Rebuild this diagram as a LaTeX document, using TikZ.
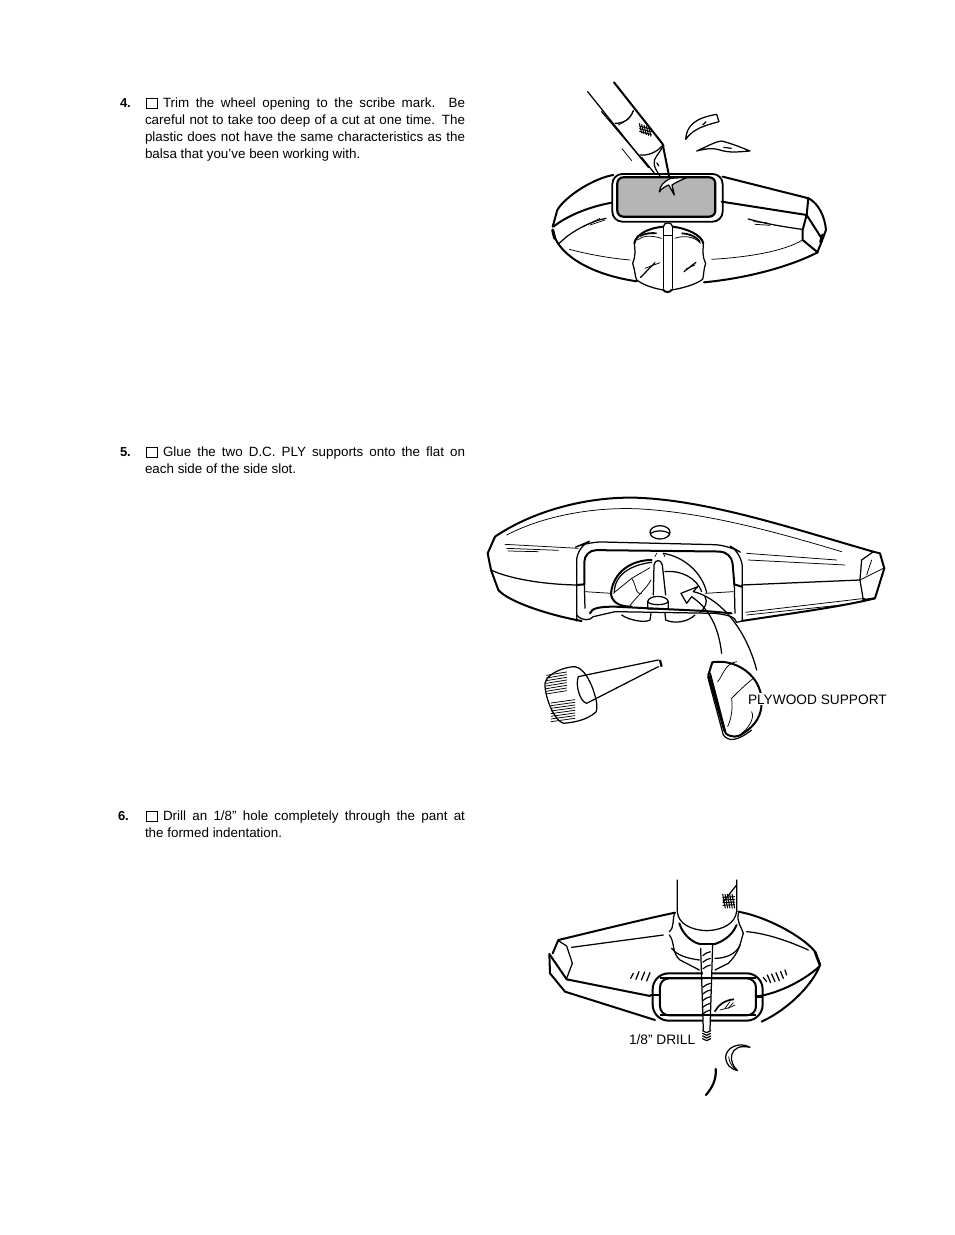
\documentclass[tikz,border=0pt]{standalone}
\usepackage{fontspec}
\setmainfont{Liberation Sans}
\tikzset{
  txt/.style={anchor=base west,inner sep=0pt,outer sep=0pt,font=\fontsize{13.4}{15}\selectfont},
  num/.style={txt,font=\fontsize{13}{15}\selectfont\bfseries},
  lab/.style={txt,font=\fontsize{13.7}{15}\selectfont},
  chk/.style={draw,line width=0.8pt},
  thk/.style={line width=2pt,line join=round,line cap=round},
  med/.style={line width=1.25pt,line join=round,line cap=round},
  thn/.style={line width=0.75pt,line join=round,line cap=round},
  fig/.style={x=0.3333pt,y=-0.3333pt}
}
\newcommand{\jl}[1]{\makebox[#1pt][s]}
\begin{document}
\begin{tikzpicture}[x=1pt,y=-1pt]
\useasboundingbox (0,0) rectangle (954,1235);
\fill[white] (0,0) rectangle (954,1235);
% ---------- text
\node[num] (n4) at (120,107) {4.};
\draw[chk] (146,98) rectangle (157,108.5);
\node[txt] (t41) at (163,107) {\jl{302}{Trim the wheel opening to the scribe mark. Be}};
\node[txt] (t42) at (145,124) {\jl{320}{careful not to take too deep of a cut at one time. The}};
\node[txt] (t43) at (145,141) {\jl{320}{plastic does not have the same characteristics as the}};
\node[txt] (t44) at (145,158) {balsa that you’ve been working with.};
\node[num] (n5) at (120,456) {5.};
\draw[chk] (146,447) rectangle (157,457.5);
\node[txt] (t51) at (163,456) {\jl{302}{Glue the two D.C. PLY supports onto the flat on}};
\node[txt] (t52) at (145,473) {each side of the side slot.};
\node[num] (n6) at (118,820) {6.};
\draw[chk] (146,811) rectangle (157,821.5);
\node[txt] (t61) at (163,820) {\jl{302}{Drill an 1/8” hole completely through the pant at}};
\node[txt] (t62) at (145,837) {the formed indentation.};
% ---------- figure 1
\begin{scope}[shift={(540,70)},fig]
 % tool
 \draw[thk] (222,37) -- (368,222);
 \draw[med] (143,65) -- (325,292);
 \draw[med] (185,125) -- (310,272);
 \draw[thn] (246,236) -- (275,272);
 \draw[med] (280,122) .. controls (270,150) and (250,160) .. (225,160);
 \draw[thn] (280,122) .. controls (272,145) and (255,155) .. (235,165);
 \foreach \a in {0,7,...,28} \draw[line width=1pt] (298+\a,160+\a/3) -- (305+\a,190+\a/3);
 \foreach \a in {0,8,16} \draw[line width=1pt] (298,168+\a) -- (335,178+\a);
 \draw[thk] (368,222) -- (388,322);
 \draw[med] (366,228) .. controls (352,245) and (325,258) .. (300,255);
 \draw[med] (372,226) -- (350,258) .. controls (340,272) and (335,285) .. (365,325);
 \draw[med] (305,262) -- (345,312);
 \draw[line width=1.2pt] (350,278) -- (357,288);
 % wheel opening
 \draw[line width=1.8pt,rounded corners=10pt] (217,312) rectangle (548,455);
 \draw[line width=2.2pt,rounded corners=6pt,fill=gray!58] (232,322) rectangle (526,440);
 \fill[white] (358,366) .. controls (360,345) and (372,335) .. (392,325) -- (442,322) .. controls (420,332) and (405,338) .. (396,345) -- (403,375) -- (386,345) .. controls (375,350) and (365,355) .. (358,366) -- cycle;
 \draw[med] (358,366) .. controls (360,345) and (372,335) .. (392,325) -- (442,322) .. controls (420,332) and (405,338) .. (396,345) -- (403,375) -- (386,345) .. controls (375,350) and (365,355) .. (358,366) -- cycle;
 % body
 \draw[thk] (220,315) .. controls (160,325) and (75,380) .. (52,420) -- (38,470);
 \draw[line width=3pt,line cap=round] (38,480) -- (44,505);
 \draw[thk] (40,490) .. controls (60,560) and (160,615) .. (290,634);
 \draw[thk] (215,398) .. controls (150,410) and (85,435) .. (40,470);
 \draw[thk] (548,320) -- (806,385) .. controls (835,400) and (855,440) .. (858,480) -- (845,515) -- (833,545);
 \draw[thk] (545,395) -- (800,435) -- (845,505);
 \draw[line width=3pt,line cap=round] (848,495) -- (842,516);
 \draw[thk] (805,385) -- (800,435);
 \draw[thk] (800,435) -- (788,480) -- (788,510) -- (833,547);
 \draw[thk] (492,637) .. controls (620,625) and (750,590) .. (833,547);
 \draw[thn] (515,568) .. controls (620,562) and (730,545) .. (788,510);
 \draw[thn] (88,538) .. controls (140,552) and (210,565) .. (270,570);
 \draw[med] (55,522) -- (80,500) .. controls (110,478) and (150,455) .. (198,445);
 \draw[thn] (130,470) -- (180,445);
 \draw[thn] (150,465) -- (195,450);
 \draw[med] (625,447) .. controls (680,462) and (730,470) .. (785,478);
 \draw[thn] (640,455) -- (680,458);
 \draw[thn] (645,463) -- (690,466);
 % wheel
 \draw[thk] (283,520) .. controls (288,495) and (320,475) .. (370,470);
 \draw[thk] (398,470) .. controls (440,475) and (485,495) .. (490,520);
 \draw[med] (283,520) .. controls (285,540) and (288,555) .. (278,580) .. controls (285,600) and (285,620) .. (290,630) .. controls (310,645) and (340,655) .. (370,660);
 \draw[med] (490,520) .. controls (490,540) and (485,555) .. (497,580) .. controls (490,600) and (492,615) .. (488,628) .. controls (465,645) and (425,655) .. (395,660);
 \draw[thk] (370,660) .. controls (375,668) and (390,668) .. (395,660);
 \draw[med] (370,470) -- (370,655);
 \draw[med] (398,470) -- (398,655);
 \draw[med] (370,470) .. controls (372,455) and (395,455) .. (398,470);
 \draw[med] (372,497) -- (396,497);
 \draw[line width=1.8pt] (300,498) .. controls (315,490) and (335,488) .. (350,490);
 \draw[thn] (292,510) .. controls (310,497) and (330,495) .. (365,505);
 \draw[line width=1.8pt] (425,490) .. controls (445,490) and (470,500) .. (480,515);
 \draw[thn] (405,505) .. controls (430,495) and (465,500) .. (482,520);
 \draw[med] (302,622) -- (345,578);
 \draw[thn] (315,595) -- (360,578);
 \draw[med] (432,605) -- (468,577);
 \draw[thn] (438,597) -- (465,585);
 % chips
 \draw[med] (437,208) .. controls (440,170) and (460,145) .. (530,133) -- (537,155) .. controls (500,165) and (460,175) .. (437,208) -- cycle;
 \draw[line width=1.2pt] (488,165) -- (498,155);
 \draw[med] (470,243) .. controls (500,230) and (525,215) .. (545,213) .. controls (580,222) and (610,235) .. (630,243) .. controls (600,245) and (570,250) .. (540,240) .. controls (515,232) and (490,238) .. (470,243) -- cycle;
 \draw[line width=1.2pt] (550,232) -- (575,235);
\end{scope}
% ---------- figure 2
\begin{scope}[shift={(475,485)},fig]
 % body
 \draw[thk] (60,155) .. controls (170,80) and (330,35) .. (480,38) .. controls (700,45) and (950,130) .. (1195,200);
 \draw[thn] (95,150) .. controls (220,85) and (380,65) .. (500,72) .. controls (700,85) and (900,140) .. (1100,200);
 \draw[thk] (60,155) -- (38,205) -- (48,255) -- (70,315) .. controls (100,350) and (220,390) .. (320,408);
 \draw[med] (48,255) .. controls (100,280) and (200,298) .. (305,300);
 \draw[thk] (1195,200) -- (1215,205) -- (1228,250) -- (1200,340) -- (1165,345);
 \draw[med] (1195,200) -- (1160,225) -- (1155,285) -- (1165,345);
 \draw[thn] (1155,285) -- (1225,250);
 \draw[thn] (1190,225) -- (1175,270);
 \draw[thk] (800,408) .. controls (950,385) and (1100,365) .. (1200,340);
 \draw[med] (800,300) -- (1155,285);
 \draw[thn] (812,382) -- (1170,340);
 \draw[thn] (815,390) -- (1100,360);
 \draw[thn] (90,178) -- (310,190);
 \draw[thn] (95,190) -- (250,196);
 \draw[thn] (100,198) -- (190,200);
 \draw[thn] (815,205) -- (1085,225);
 \draw[thn] (820,225) -- (1110,240);
 % hole
 \draw[med] (555,142) ellipse [x radius=30,y radius=20];
 \draw[med] (527,145) .. controls (540,135) and (570,135) .. (583,145);
 % recess
 \draw[med,rounded corners=14pt] (305,408) -- (305,185) -- (340,170) -- (760,180) -- (802,205) -- (802,408);
 \draw[thk,rounded corners=12pt] (328,298) -- (328,195) -- (770,200) -- (778,298);
 \draw[thk] (305,300) -- (328,298);
 \draw[thk] (778,298) -- (800,305);
 \draw[med] (328,298) -- (330,370);
 \draw[med] (778,298) -- (780,385);
 \draw[med] (305,390) .. controls (320,408) and (345,408) .. (355,395) -- (420,380) -- (720,385) .. controls (760,390) and (780,395) .. (785,412) -- (802,408);
 \draw[thk] (345,385) .. controls (350,370) and (370,365) .. (420,365) -- (690,378) -- (770,385);
 \draw[thn] (330,320) -- (408,325);
 \draw[thn] (690,325) -- (775,320);
 % supports and hub
 \draw[thk] (530,225) .. controls (470,225) and (415,260) .. (408,325) .. controls (410,350) and (430,365) .. (470,365);
 \draw[med] (418,320) .. controls (420,270) and (465,240) .. (530,232);
 \draw[thn] (415,325) -- (470,280) -- (525,248);
 \draw[thn] (470,280) .. controls (485,300) and (480,330) .. (500,325);
 \draw[thn] (528,285) .. controls (515,310) and (480,340) .. (465,362);
 \draw[med] (565,205) .. controls (625,215) and (680,260) .. (695,322);
 \draw[med] (570,260) .. controls (620,255) and (665,280) .. (680,320);
 \draw[med] (690,335) .. controls (700,350) and (690,370) .. (675,382);
 \draw[med] (535,330) -- (537,240) .. controls (540,222) and (558,222) .. (562,240) -- (572,330);
 \draw[med] (518,350) .. controls (520,330) and (575,328) .. (580,350) -- (580,372) -- (518,372) -- cycle;
 \draw[med] (518,350) .. controls (525,362) and (572,362) .. (580,350);
 \draw[med] (440,390) .. controls (460,405) and (510,415) .. (525,405) -- (528,385);
 \draw[med] (570,385) -- (572,405) .. controls (600,418) and (640,410) .. (660,390);
 \draw[thn] (545,205) -- (540,215);
 \draw[thn] (565,205) -- (570,215);
 % arrow
 \fill[white] (618,325) -- (668,305) -- (655,322) -- (650,337) -- (635,355) -- cycle;
 \draw[med] (618,325) -- (668,305) -- (655,320) .. controls (725,335) and (810,420) .. (845,555);
 \draw[med] (618,325) -- (635,355) -- (650,335) .. controls (700,370) and (730,420) .. (740,505);
 % bottle
 \draw[med] (300,545) .. controls (270,545) and (215,565) .. (210,595) .. controls (208,630) and (235,705) .. (265,715) .. controls (300,712) and (335,705) .. (362,682);
 \draw[med] (300,545) .. controls (335,550) and (360,620) .. (365,655) .. controls (366,670) and (365,680) .. (362,682);
 \foreach \y in {565,573,...,621} \draw[thn] (214,\y+6) -- (275,\y-4);
 \foreach \y in {652,660,...,708} \draw[thn] (228,\y+2) -- (300,\y-8);
 \draw[med] (310,575) .. controls (300,600) and (315,650) .. (335,655) -- (550,545);
 \draw[med] (310,575) -- (550,525);
 \draw[line width=2.2pt] (555,525) -- (560,545);
 % plywood support
 \draw[thk] (712,532) .. controls (780,520) and (860,570) .. (860,650) .. controls (860,690) and (845,720) .. (800,748);
 \draw[thk] (712,532) -- (700,570) -- (748,738);
 \draw[thk] (705,565) -- (752,745) .. controls (770,760) and (790,755) .. (800,748);
 \draw[line width=1.2pt] (698,575) -- (745,750) .. controls (760,770) and (785,770) .. (830,735);
 \draw[thn] (728,590) .. controls (745,570) and (750,535) .. (785,530);
 \draw[thn] (770,640) .. controls (790,620) and (810,600) .. (835,580);
 \draw[thn] (770,640) .. controls (775,680) and (765,710) .. (758,725);
 \draw[thn] (830,680) .. controls (840,700) and (820,730) .. (800,745);
\end{scope}
\node[lab,fill=white,inner xsep=1pt,inner ysep=1pt] (ply) at (747,704) {PLYWOOD SUPPORT};
% ---------- figure 3
\begin{scope}[shift={(540,870)},fig]
 % body
 \draw[thk] (405,128) .. controls (300,150) and (160,185) .. (55,210) -- (38,250);
 \draw[thk] (595,125) .. controls (680,140) and (790,200) .. (825,245) -- (840,285) .. controls (820,340) and (750,415) .. (665,455);
 \draw[thk] (28,252) -- (80,328) -- (330,378);
 \draw[thk] (28,252) -- (30,310) -- (75,365) -- (345,450);
 \draw[med] (55,212) -- (80,228) -- (97,280) -- (80,325);
 \draw[med] (95,232) -- (370,195);
 \draw[med] (620,185) .. controls (680,190) and (750,215) .. (805,240);
 \draw[thk] (650,380) .. controls (710,370) and (780,340) .. (838,290);
 \draw[line width=2.6pt] (825,245) -- (840,285);
 % tool
 \draw[med] (412,30) -- (412,125) .. controls (415,160) and (450,180) .. (500,182) .. controls (550,180) and (585,160) .. (590,125) -- (590,30);
 \draw[med] (550,95) -- (590,45);
 \foreach \a in {0,7,...,28} \draw[line width=1pt] (548+\a,72) -- (556+\a,115);
 \foreach \a in {0,8,...,24} \draw[line width=1pt] (548,82+\a) -- (585,80+\a);
 \draw[thk] (418,160) .. controls (430,200) and (465,220) .. (480,222);
 \draw[thk] (590,165) .. controls (575,200) and (545,215) .. (525,222);
 \draw[med] (480,222) -- (525,222);
 \draw[med] (405,128) .. controls (395,150) and (405,170) .. (388,185);
 \draw[med] (388,195) .. controls (405,215) and (395,250) .. (420,270) -- (478,300);
 \draw[med] (595,130) .. controls (590,160) and (605,170) .. (610,190);
 \draw[med] (610,190) .. controls (600,220) and (600,245) .. (565,280) -- (525,300);
 \draw[med] (395,235) .. controls (410,255) and (440,265) .. (478,270);
 \draw[med] (525,265) .. controls (560,265) and (590,250) .. (600,225);
 % window
 \draw[thk,rounded corners=16pt] (338,310) rectangle (668,452);
 \draw[thk,rounded corners=9pt] (360,325) rectangle (648,436);
 \draw[line width=2.4pt] (330,375) -- (358,375);
 \draw[line width=2.4pt] (650,380) -- (668,380);
 % drill
 \fill[white] (488,235) rectangle (512,470);
 \draw[med] (482,235) -- (490,480);
 \draw[med] (518,225) -- (510,480);
 \foreach \y in {245,265,285,340,360,380,400,420} \draw[line width=1.2pt] (488,\y+12) .. controls (498,\y+5) and (505,\y) .. (512,\y);
 \draw[line width=1.8pt] (360,325) -- (648,325);
 \draw[line width=2.2pt] (360,436) -- (648,436);
 \foreach \y in {482,490,498,506} \draw[med] (488,\y) -- (500,\y+6) -- (512,\y);
 % marks
 \draw[med] (272,325) -- (280,310);
 \draw[med] (288,328) -- (297,305);
 \draw[med] (304,330) -- (314,306);
 \draw[med] (320,333) -- (330,308);
 \draw[med] (670,322) -- (680,335);
 \draw[med] (682,315) -- (692,338);
 \draw[med] (695,312) -- (705,335);
 \draw[med] (708,308) -- (718,332);
 \draw[med] (722,305) -- (730,325);
 \draw[med] (735,300) -- (740,315);
 \draw[line width=1.7pt] (524,425) .. controls (535,405) and (555,390) .. (582,388);
 \draw[thn] (540,420) .. controls (555,415) and (570,415) .. (585,405);
 \draw[thn] (555,415) -- (570,395);
 \draw[thn] (565,415) -- (580,398);
 % chips
 \draw[med] (630,532) .. controls (600,515) and (560,530) .. (557,560) .. controls (558,585) and (570,595) .. (593,602) .. controls (580,590) and (572,575) .. (575,555) .. controls (580,535) and (600,525) .. (630,532) -- cycle;
 \draw[thn] (566,560) .. controls (568,580) and (578,592) .. (590,600);
 \draw[line width=2.2pt,line cap=round] (527,597) .. controls (530,630) and (515,655) .. (498,675);
\end{scope}
\node[lab] (drl) at (629,1044) {1/8” DRILL};
\end{tikzpicture}
\end{document}
